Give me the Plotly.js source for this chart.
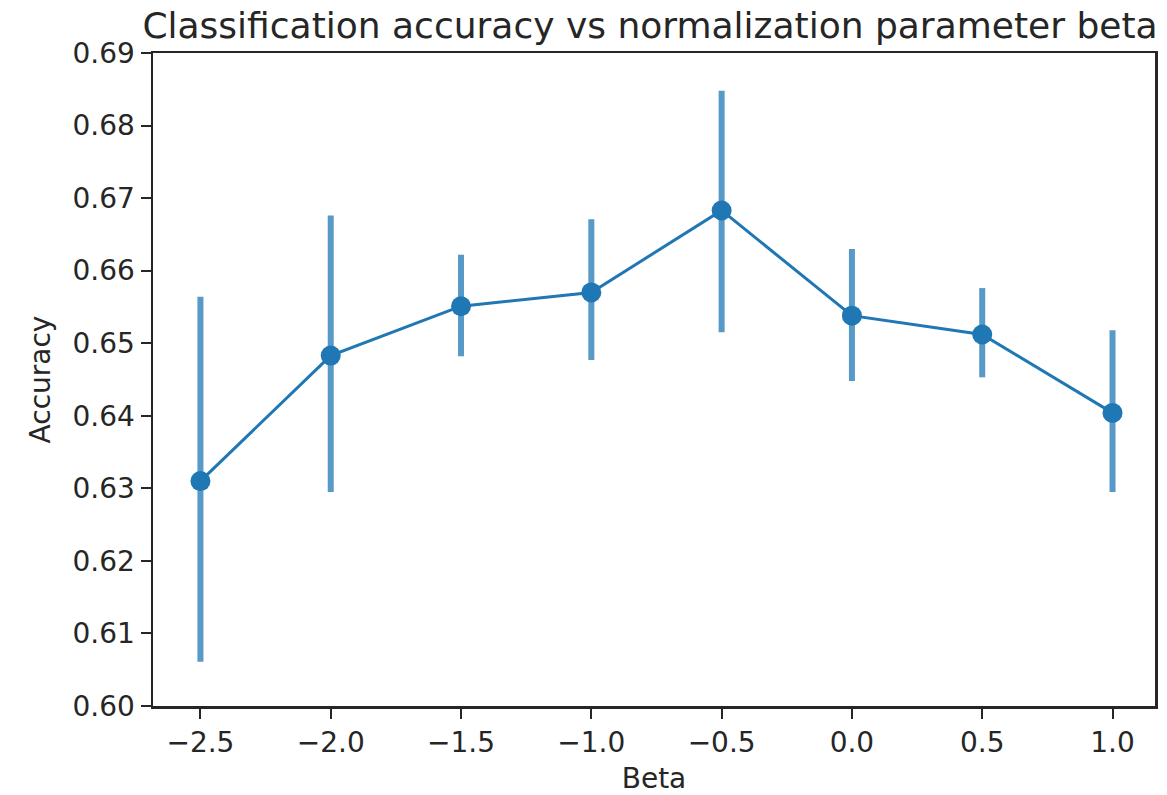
<!DOCTYPE html>
<html>
<head>
<meta charset="utf-8">
<script src="https://cdn.plot.ly/plotly-3.0.1.min.js"></script>
<style>html,body{margin:0;padding:0;background:#fff;}#chart{width:1167px;height:795px;}</style>
</head>
<body>
<div id="chart"></div>
<script>
// Data
const betas = [-2.5, -2.0, -1.5, -1.0, -0.5, 0.0, 0.5, 1.0];
const accuracy = [0.6310, 0.6483, 0.6551, 0.6570, 0.6683, 0.6538, 0.6512, 0.6404];
const ciUpper = [0.6564, 0.6676, 0.6622, 0.6671, 0.6848, 0.6630, 0.6576, 0.6518];
const ciLower = [0.6061, 0.6295, 0.6482, 0.6477, 0.6515, 0.6448, 0.6453, 0.6295];
const yTicks = [0.60, 0.61, 0.62, 0.63, 0.64, 0.65, 0.66, 0.67, 0.68, 0.69];
const xTicks = [-2.5, -2.0, -1.5, -1.0, -0.5, 0.0, 0.5, 1.0];

const errPlus = accuracy.map((v, i) => ciUpper[i] - v);
const errMinus = accuracy.map((v, i) => v - ciLower[i]);

const font = 'DejaVu Sans, Liberation Sans, sans-serif';
const ink = '#262626';

const trace = {
  x: betas,
  y: accuracy,
  type: 'scatter',
  mode: 'lines+markers',
  line: {color: '#1f77b4', width: 3},
  marker: {color: '#1f77b4', size: 20},
  error_y: {
    type: 'data',
    symmetric: false,
    array: errPlus,
    arrayminus: errMinus,
    color: 'rgba(31,119,180,0.75)',
    thickness: 6,
    width: 0
  },
  hoverinfo: 'x+y'
};

const axisCommon = {
  showline: true,
  mirror: true,
  linecolor: ink,
  linewidth: 2.5,
  ticks: 'outside',
  ticklen: 10,
  tickwidth: 2,
  tickcolor: ink,
  showgrid: false,
  zeroline: false,
  tickfont: {family: font, size: 28, color: ink}
};

const layout = {
  width: 1167,
  height: 795,
  margin: {l: 153, r: 12, t: 53, b: 89},
  paper_bgcolor: '#ffffff',
  plot_bgcolor: '#ffffff',
  showlegend: false,
  title: {
    text: 'Classification accuracy vs normalization parameter beta',
    font: {family: font, size: 36, color: ink},
    x: 0.557, xanchor: 'center',
    y: 0.968, yanchor: 'middle'
  },
  xaxis: Object.assign({}, axisCommon, {
    range: [-2.682, 1.163],
    tickvals: xTicks,
    ticktext: xTicks.map(v => (v < 0 ? '\u2212' : '') + Math.abs(v).toFixed(1)),
    title: {text: 'Beta', font: {family: font, size: 28, color: ink}, standoff: 12}
  }),
  yaxis: Object.assign({}, axisCommon, {
    range: [0.60, 0.69],
    tickvals: yTicks,
    ticktext: yTicks.map(v => v.toFixed(2)),
    title: {text: 'Accuracy', font: {family: font, size: 28, color: ink}, standoff: 14}
  })
};

Plotly.newPlot('chart', [trace], layout, {displayModeBar: false, staticPlot: true});
</script>
</body>
</html>
